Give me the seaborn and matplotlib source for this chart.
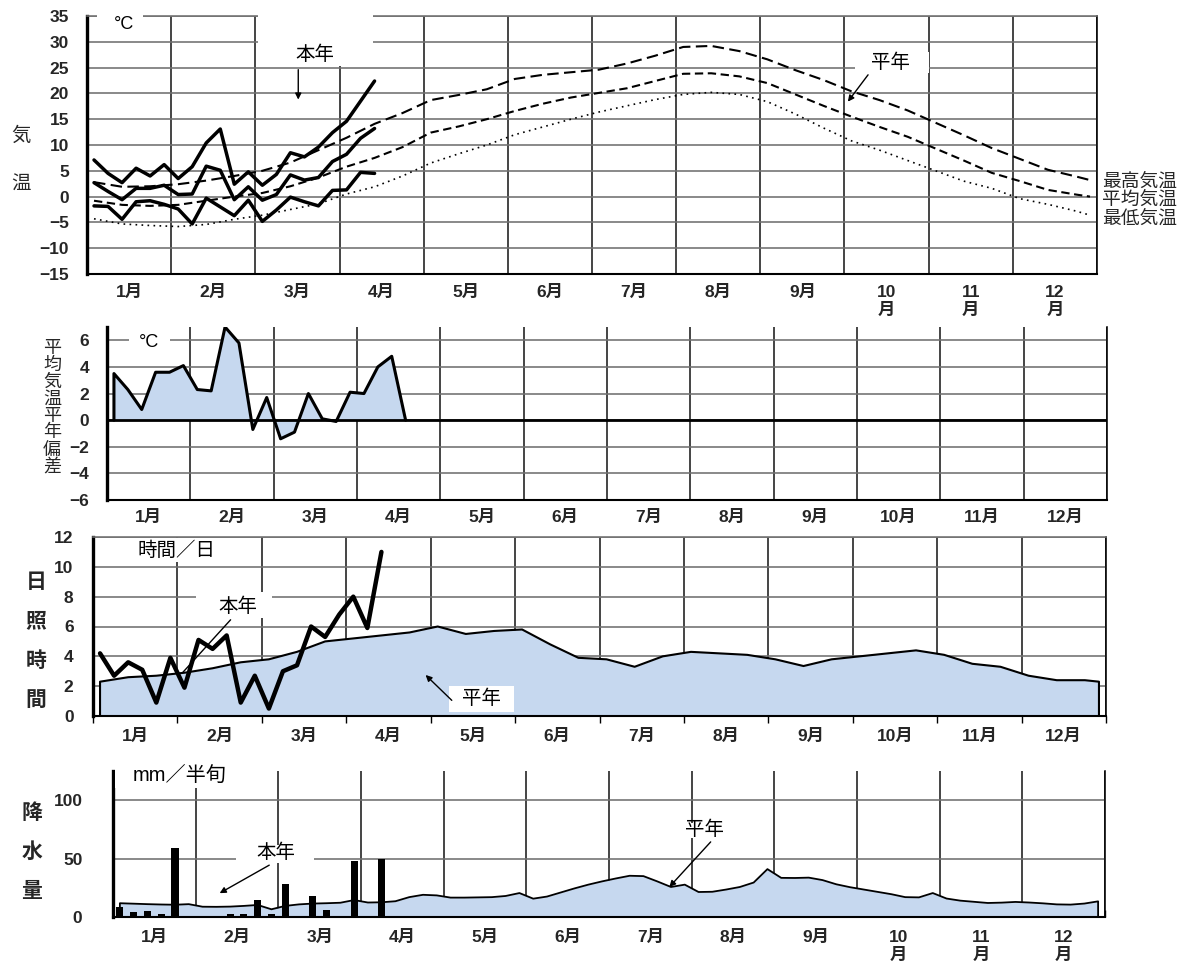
import matplotlib
matplotlib.use("Agg")
import matplotlib.pyplot as plt
from matplotlib.patches import Rectangle
import numpy as np
import pandas as pd
import seaborn as sns

# ---------------------------------------------------------------- data
MONTH_LABELS = ["1月", "2月", "3月", "4月", "5月", "6月",
                "7月", "8月", "9月", "10月", "11月", "12月"]
MONTH_LABELS_STACKED = MONTH_LABELS[:9] + ["10\n月", "11\n月", "12\n月"]

# 本年: pentad (半旬) values, pentads 1-21
YEAR_PENTADS = list(range(1, 22))
TMAX_YEAR = [7.1, 4.5, 2.7, 5.5, 4.0, 6.2, 3.5, 5.8, 10.4, 13.1, 2.4,
             4.8, 2.2, 4.3, 8.5, 7.7, 9.6, 12.4, 14.6, 18.5, 22.4]
TMEAN_YEAR = [2.7, 1.0, -0.6, 1.6, 1.6, 2.2, 0.4, 0.5, 5.9, 5.1, -0.6,
              1.9, -0.7, 0.4, 4.2, 3.2, 3.7, 6.8, 8.2, 11.3, 13.2]
TMIN_YEAR = [-1.8, -1.9, -4.4, -1.0, -0.8, -1.5, -2.4, -5.3, -0.3, -2.0, -3.7,
             -0.7, -4.8, -2.6, -0.1, -1.0, -1.8, 1.2, 1.3, 4.7, 4.5]
TMEAN_DEVIATION = [3.5, 2.3, 0.8, 3.6, 3.6, 4.1, 2.3, 2.2, 7.0, 5.8, -0.7,
                   1.7, -1.4, -0.9, 2.0, 0.1, -0.1, 2.1, 2.0, 4.0, 4.8]
SUNSHINE_YEAR = [4.2, 2.7, 3.6, 3.1, 0.9, 3.9, 1.9, 5.1, 4.5, 5.4, 0.9,
                 2.7, 0.5, 3.0, 3.4, 6.0, 5.3, 6.8, 8.0, 5.9, 11.0]
PRECIP_YEAR = [8.7, 4.6, 5.2, 2.3, 59.5, 0.0, 0.0, 0.9, 2.3, 2.3, 14.7,
               2.3, 28.3, 0.9, 17.6, 6.1, 0.9, 47.7, 0.0, 50.0, 0.0]

# 平年: every other pentad through the year, plus the last one
NORMAL_PENTADS = list(range(1, 72, 2)) + [72]
TMAX_NORMAL = [2.8, 1.9, 2.0, 2.4, 3.1, 4.0, 5.0, 6.6, 9.0, 11.4, 14.1, 16.2,
               18.7, 19.7, 20.8, 22.8, 23.6, 24.1, 24.6, 25.8, 27.3, 29.0,
               29.2, 28.2, 26.6, 24.5, 22.6, 20.4, 18.7, 16.7, 14.3, 11.9,
               9.4, 7.3, 5.2, 3.9, 3.2]
TMEAN_NORMAL = [-0.8, -1.6, -1.8, -1.6, -0.8, 0.0, 0.7, 2.0, 3.7, 5.8, 7.5,
                9.6, 12.4, 13.6, 15.0, 16.6, 18.0, 19.2, 20.1, 21.0, 22.4,
                23.8, 23.9, 23.3, 22.0, 19.8, 17.6, 15.5, 13.5, 11.6, 9.3,
                7.0, 4.6, 3.0, 1.3, 0.4, 0.0]
TMIN_NORMAL = [-4.3, -5.3, -5.6, -5.8, -5.4, -4.4, -3.6, -2.5, -1.4, 0.5, 1.9,
               4.0, 6.5, 8.3, 10.0, 12.0, 13.5, 15.0, 16.4, 17.6, 18.8, 19.8,
               20.2, 19.8, 18.4, 16.0, 13.3, 10.8, 9.0, 7.0, 5.0, 3.0, 1.6,
               -0.4, -1.5, -2.8, -3.6]
SUNSHINE_NORMAL = [2.3, 2.6, 2.7, 2.9, 3.2, 3.6, 3.8, 4.3, 5.0, 5.2, 5.4, 5.6,
                   6.0, 5.5, 5.7, 5.8, 4.8, 3.9, 3.8, 3.3, 4.0, 4.3, 4.2, 4.1,
                   3.8, 3.35, 3.8, 4.0, 4.2, 4.4, 4.1, 3.5, 3.3, 2.7, 2.4,
                   2.4, 2.3]

# 平年 precipitation, all 72 pentads
PRECIP_PENTADS = list(range(1, 73))
PRECIP_NORMAL = [11.8, 11.4, 11.0, 10.7, 10.5, 11.0, 8.8, 8.7, 8.9, 9.5,
                 10.3, 6.6, 9.5, 10.8, 11.5, 11.8, 12.2, 14.5, 12.4, 12.6,
                 13.5, 17.0, 19.0, 18.5, 16.6, 16.6, 16.8, 17.0, 18.0, 20.5,
                 15.7, 17.5, 21.0, 24.5, 27.7, 30.5, 33.0, 35.3, 35.0, 30.5,
                 25.7, 27.7, 21.4, 21.6, 23.5, 25.7, 29.5, 41.0, 33.5, 33.4,
                 33.7, 31.6, 28.0, 25.5, 23.5, 21.5, 19.5, 17.0, 16.8, 20.5,
                 15.8, 14.0, 13.0, 12.0, 12.3, 12.9, 12.4, 11.7, 10.8, 10.6,
                 11.5, 13.4]

# ---------------------------------------------------------------- style
sns.set_theme(style="white")
plt.rcParams["font.family"] = ["Liberation Sans", "Noto Sans CJK JP", "DejaVu Sans"]
plt.rcParams["axes.unicode_minus"] = True

BLUE = "#c6d8ef"
HGRID = "#707070"
VGRID = "#1c1c1c"

W, H = 1191, 961
fig = plt.figure(figsize=(W / 100, H / 100), dpi=100)
fig.patch.set_facecolor("white")


def add_axes_px(left, top, right, bottom):
    return fig.add_axes([left / W, 1 - bottom / H, (right - left) / W, (bottom - top) / H])


def pentad_x(pentads):
    return (np.asarray(pentads, dtype=float) - 0.5) / 6.0


def line(ax, x, y, **kws):
    df = pd.DataFrame({"x": np.asarray(x, float), "y": np.asarray(y, float)})
    sns.lineplot(data=df, x="x", y="y", ax=ax, sort=False, estimator=None,
                 color="black", **kws)
    ax.set_xlabel("")
    ax.set_ylabel("")


def base_closed(x, y, x_end=None):
    """Outline of an area that starts and ends on the zero line."""
    x = list(np.asarray(x, float))
    y = list(np.asarray(y, float))
    x_last = x[-1] if x_end is None else x_end
    return [x[0]] + x + [x_last], [0.0] + y + [0.0]


def month_axis(ax, labels, label_pad, ylabel_pad, minor_len=0, minor_dir="out"):
    ax.set_xlim(0, 12)
    ax.set_xticks(np.arange(12) + 0.5)
    ax.set_xticklabels(labels, fontsize=12.5, fontweight="bold", linespacing=1.25)
    ax.set_xticks(np.arange(0, 13), minor=True)
    ax.tick_params(axis="x", which="major", length=0, pad=label_pad, bottom=True)
    ax.tick_params(axis="x", which="minor", length=minor_len, direction=minor_dir,
                   width=1.0, color="black", bottom=True)
    ax.tick_params(axis="y", length=0, pad=ylabel_pad, labelsize=12.5)
    for lbl in ax.get_yticklabels():
        lbl.set_fontweight("bold")
    ax.set_axisbelow(True)
    ax.grid(False)
    ax.grid(True, axis="x", which="minor", color=VGRID, lw=1.15)
    ax.grid(True, axis="y", which="major", color=HGRID, lw=1.15)
    for side in ("left", "right", "top", "bottom"):
        ax.spines[side].set_color("black")
        ax.spines[side].set_linewidth(1.15)
    ax.spines["left"].set_linewidth(2.4)
    ax.spines["bottom"].set_linewidth(1.5)


def blank(ax, x0, x1, y0, y1):
    ax.add_patch(Rectangle((x0, y0), x1 - x0, y1 - y0, facecolor="white",
                           edgecolor="none", zorder=4, clip_on=False))


def label(ax, x, y, s, size=14, **kws):
    ax.text(x, y, s, ha="center", va="center", fontsize=size, zorder=5,
            color="black", **kws)


def arrow(ax, tail, head, style="-|>"):
    ax.annotate("", xy=head, xytext=tail, zorder=5,
                arrowprops=dict(arrowstyle=style, color="black", lw=1.0,
                                mutation_scale=9, shrinkA=0, shrinkB=0))


def vertical_text(s, x_px, y_first_px, pitch_px, size, weight="normal"):
    for i, ch in enumerate(s):
        fig.text(x_px / W, 1 - (y_first_px + i * pitch_px) / H, ch,
                 ha="center", va="center", fontsize=size, fontweight=weight)


# ---------------------------------------------------------------- 気温
ax1 = add_axes_px(87, 16, 1097, 274)
ax1.set_ylim(-15, 35)
ax1.set_yticks(np.arange(-15, 36, 5))
month_axis(ax1, MONTH_LABELS_STACKED, label_pad=8, ylabel_pad=13)
ax1.spines["top"].set_color(HGRID)

xn = pentad_x(NORMAL_PENTADS)
xy = pentad_x(YEAR_PENTADS)
line(ax1, xn, TMAX_NORMAL, lw=1.5, linestyle=(0, (5.5, 2.6)))
line(ax1, xn, TMEAN_NORMAL, lw=1.5, linestyle=(0, (4.0, 2.2)))
line(ax1, xn, TMIN_NORMAL, lw=1.2, linestyle=(0, (1.0, 2.6)))
for series in (TMAX_YEAR, TMEAN_YEAR, TMIN_YEAR):
    line(ax1, xy, series, lw=2.5)

blank(ax1, 0.12, 0.66, 31.6, 35.4)
label(ax1, 0.44, 33.3, "°C", size=13)
blank(ax1, 2.03, 3.40, 25.4, 35.4)
label(ax1, 2.71, 27.4, "本年", size=14)
arrow(ax1, (2.51, 24.6), (2.51, 18.8))
blank(ax1, 9.12, 10.0, 23.9, 28.0)
label(ax1, 9.55, 26.0, "平年", size=14)
arrow(ax1, (9.28, 23.6), (9.04, 18.4))
for name, yv in (("最高気温", 2.8), ("平均気温", -0.7), ("最低気温", -4.3)):
    ax1.text(12.06, yv, name, ha="left", va="center", fontsize=13.5,
             clip_on=False)
vertical_text("気温", 21, 136, 49, 14)

# ---------------------------------------------------------------- 平均気温平年偏差
ax2 = add_axes_px(107, 327, 1107, 500)
ax2.set_ylim(-6, 7)
ax2.set_yticks(np.arange(-6, 7, 2))
month_axis(ax2, MONTH_LABELS, label_pad=7, ylabel_pad=13)
ax2.spines["top"].set_visible(False)

dx, dy = base_closed(xy, TMEAN_DEVIATION, x_end=xy[-1] + 1 / 6)
ax2.fill_between(dx, dy, 0, color=BLUE, lw=0, zorder=1)
ax2.axhline(0, color="black", lw=2.0, zorder=1.5)
line(ax2, dx, dy, lw=2.2, zorder=2)
blank(ax2, 0.26, 0.75, 5.3, 6.6)
label(ax2, 0.50, 5.87, "°C", size=13)
vertical_text("平均気温平年偏差", 52, 348, 17, 13)

# ---------------------------------------------------------------- 日照時間
ax3 = add_axes_px(93, 537, 1106, 716)
ax3.set_ylim(0, 12)
ax3.set_yticks(np.arange(0, 13, 2))
month_axis(ax3, MONTH_LABELS, label_pad=9, ylabel_pad=14, minor_len=5,
           minor_dir="out")
ax3.spines["top"].set_color(HGRID)

sx, sy = base_closed(xn, SUNSHINE_NORMAL)
ax3.fill_between(sx, sy, 0, color=BLUE, lw=0, zorder=1)
line(ax3, sx, sy, lw=1.5, zorder=2)
line(ax3, xy, SUNSHINE_YEAR, lw=3.2, zorder=3)

blank(ax3, 0.30, 1.68, 10.3, 11.9)
label(ax3, 0.99, 11.1, "時間／日", size=14)
blank(ax3, 1.22, 2.12, 6.55, 8.3)
label(ax3, 1.72, 7.35, "本年", size=14)
arrow(ax3, (1.63, 6.45), (1.06, 2.9), style="-")
blank(ax3, 4.22, 4.99, 0.25, 2.0)
label(ax3, 4.60, 1.15, "平年", size=14)
arrow(ax3, (4.25, 1.05), (3.94, 2.75))
vertical_text("日照時間", 36, 583, 39, 15, weight="bold")

# ---------------------------------------------------------------- 降水量
ax4 = add_axes_px(113, 771, 1105, 917)
ax4.set_ylim(0, 125)
ax4.set_yticks([0, 50, 100])
month_axis(ax4, MONTH_LABELS_STACKED, label_pad=9, ylabel_pad=22, minor_len=5,
           minor_dir="in")
ax4.spines["top"].set_visible(False)

px_, py_ = base_closed(pentad_x(PRECIP_PENTADS), PRECIP_NORMAL)
ax4.fill_between(px_, py_, 0, color=BLUE, lw=0, zorder=1)
line(ax4, px_, py_, lw=1.3, zorder=2)
ax4.bar(xy, PRECIP_YEAR, width=0.085, color="black", lw=0, zorder=3)

blank(ax4, 0.02, 1.64, 110.5, 127)
label(ax4, 0.80, 121.0, "mm／半旬", size=14.5)
blank(ax4, 1.49, 2.43, 46.5, 61.5)
label(ax4, 1.97, 54.6, "本年", size=14)
arrow(ax4, (1.89, 44.4), (1.29, 20.4))
blank(ax4, 6.83, 7.48, 68.0, 80.5)
label(ax4, 7.16, 74.3, "平年", size=14)
arrow(ax4, (7.23, 64.3), (6.73, 25.7))
vertical_text("降水量", 32, 813, 39, 15, weight="bold")

fig.savefig("out.png", dpi=100, facecolor="white")
